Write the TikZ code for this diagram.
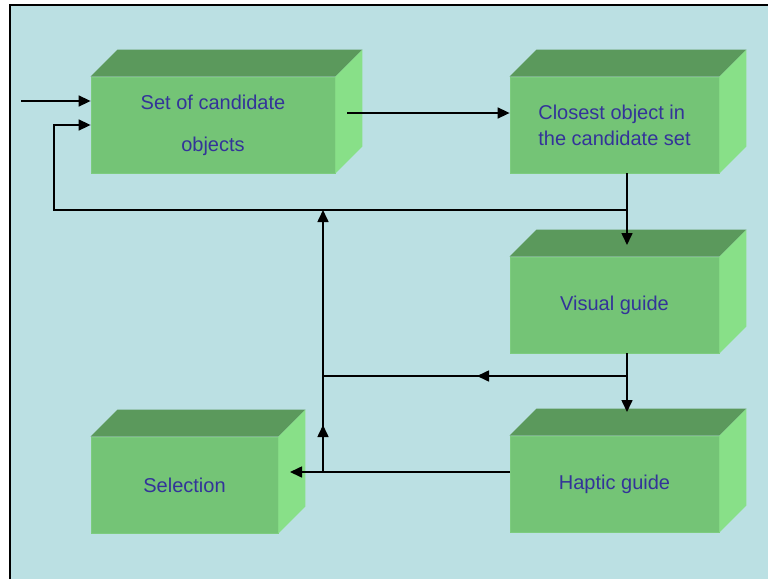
\documentclass[tikz,border=0pt]{standalone}
\usepackage{fontspec}
\setmainfont{Liberation Sans}
\usetikzlibrary{arrows.meta,calc}
\definecolor{bg}{HTML}{BBE0E3}
\definecolor{frontc}{HTML}{74C476}
\definecolor{topc}{HTML}{5B995C}
\definecolor{sidec}{HTML}{88E088}
\definecolor{edgec}{HTML}{7DCC7F}
\definecolor{txtc}{HTML}{333399}
\newcommand{\cubefaces}[1]{%
  \fill[topc] (#1.north west) -- ++(27,-27) -- ($(#1.north east)+(27,-27)$) -- (#1.north east) -- cycle;
  \fill[sidec] (#1.north east) -- ++(27,-27) -- ($(#1.south east)+(27,-27)$) -- (#1.south east) -- cycle;}
\begin{document}
\begin{tikzpicture}[x=1pt,y=-1pt,
  box/.style={rectangle, fill=frontc, draw=edgec, line width=0.8pt, inner sep=0pt,
    minimum height=96pt, font=\fontsize{20}{26}\selectfont, text=txtc, align=center},
  conn/.style={line width=1.6pt, draw=black},
  tip/.style={-{Triangle[length=12pt,width=11pt]}}]
\useasboundingbox (0,0) rectangle (768,579);
\fill[white] (0,0) rectangle (768,579);
\fill[bg] (10,5) rectangle (768,579);
\draw[line width=1.5pt] (10,579) -- (10,5) -- (768,5);

\node[box, minimum width=244pt] (set) at (213,125) {Set of candidate\\[16pt]objects};
\node[box, minimum width=209pt, align=left] (close) at (614.5,125) {Closest object in\\the candidate set};
\node[box, minimum width=209pt] (visual) at (614.5,305) {Visual guide};
\node[box, minimum width=209pt] (haptic) at (614.5,484) {Haptic guide};
\node[box, minimum width=187pt] (sel) at (184.5,485) {Selection};
\cubefaces{set}
\cubefaces{close}
\cubefaces{visual}
\cubefaces{haptic}
\cubefaces{sel}

\coordinate (in) at (21,101);
\coordinate (s1) at (347,113);
\coordinate (j1) at (627,210);
\coordinate (fbL) at (54,210);
\coordinate (vtip) at (627,245);
\coordinate (htip) at (627,412);
\coordinate (j2) at (627,376);
\coordinate (m2) at (477,376);
\coordinate (v2) at (323,376);
\coordinate (h1) at (510,472);
\coordinate (stip) at (290,472);
\coordinate (vb) at (323,472);
\coordinate (vt) at (323,210);
\coordinate (vm) at (323,425);

\draw[conn,tip] (in) -- (in -| set.west);
\draw[conn,tip] (s1) -- (s1 -| close.west);
\draw[conn,tip] (close.south -| j1) -- (vtip);
\draw[conn,tip] (j1) -- (fbL) |- (set.west);
\draw[conn,tip] (visual.south -| j2) -- (htip);
\draw[conn] (j2) -- (v2);
\draw[conn,tip] (j2) -- (m2);
\draw[conn,tip] (h1) -- (stip);
\draw[conn,tip] (vb) -- (vt);
\draw[conn,tip] (vb) -- (vm);
\end{tikzpicture}
\end{document}
